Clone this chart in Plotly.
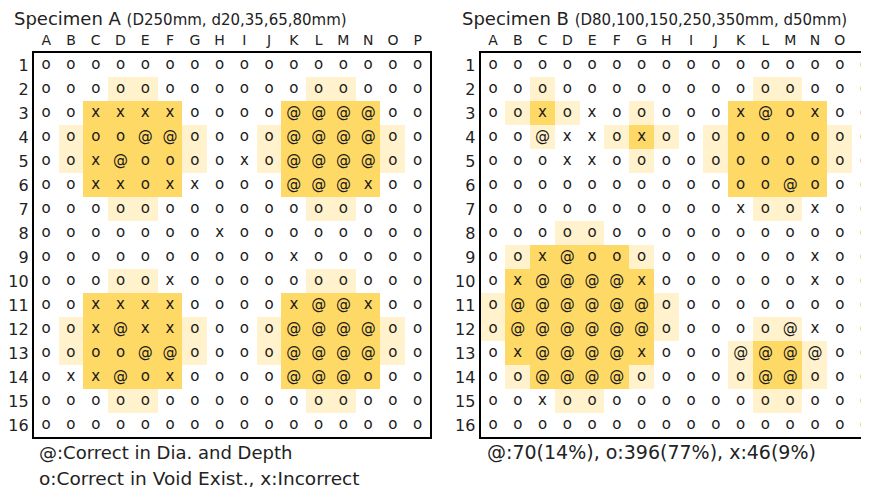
import plotly.graph_objects as go

columns = list("ABCDEFGHIJKLMNOP")
rows = [str(i) for i in range(1, 17)]

# symbols per row (A..P): '@' correct in dia & depth, 'o' correct in void existence, 'x' incorrect
symbols_a = [
    "oooooooooooooooo",
    "oooooooooooooooo",
    "ooxxxxoooo@@@@oo",
    "oooo@@oooo@@@@oo",
    "oox@ooooxo@@@@oo",
    "ooxxoxxooo@@@xoo",
    "oooooooooooooooo",
    "oooooooxoooooooo",
    "ooooooooooxooooo",
    "oooooxoooooooooo",
    "ooxxxxoooox@@xoo",
    "oox@xxoooo@@@@oo",
    "oooo@@oooo@@@@oo",
    "oxx@oxoooo@@@ooo",
    "oooooooooooooooo",
    "oooooooooooooooo",
]
symbols_b = [
    "oooooooooooooooo",
    "oooooooooooooooo",
    "ooxoxooooox@oxoo",
    "oo@xxoxooooooooo",
    "oooxxooooooooooo",
    "oooooooooooo@ooo",
    "ooooooooooxooxoo",
    "oooooooooooooooo",
    "oox@oooooooooxoo",
    "ox@@@@xooooooxoo",
    "o@@@@@@ooooooooo",
    "o@@@@@@ooooo@xoo",
    "ox@@@@xooo@@@@oo",
    "oo@@@@ooooo@@ooo",
    "ooxooooooooooooo",
    "oooooooooooooooo",
]
# backgrounds: '.' none, 'l' light (void surroundings), 'd' dark (void region)
background_a = [
    "................",
    "...ll......ll...",
    "..dddd....dddd..",
    ".lddddl..lddddl.",
    ".lddddl..lddddl.",
    "..dddd....dddd..",
    "...ll......ll...",
    "................",
    "................",
    "...ll......ll...",
    "..dddd....dddd..",
    ".lddddl..lddddl.",
    ".lddddl..lddddl.",
    "..dddd....dddd..",
    "...ll......ll...",
    "................",
]
background_b = [
    "................",
    "..l........ll...",
    ".ldl..l...dddd..",
    "..l..ldl.lddddl.",
    "......l..lddddl.",
    "..........dddd..",
    "...........ll...",
    "...ll...........",
    ".lddddl.........",
    ".dddddd.........",
    "lddddddl........",
    "lddddddl...ll...",
    ".dddddd...lddl..",
    ".lddddl...lddl..",
    "...ll......ll...",
    "................",
]

title_a = "Specimen A"
sub_a = "(D250mm, d20,35,65,80mm)"
title_b = "Specimen B"
sub_b = "(D80,100,150,250,350mm, d50mm)"
note_a1 = "@:Correct in Dia. and Depth"
note_a2 = "o:Correct in Void Exist., x:Incorrect"
note_b = "@:70(14%), o:396(77%), x:46(9%)"

# page body has an 8px margin: figure is sized to fill the rest of the window
OFF = 8
W, H = 869 - OFF, 490 - OFF
FONT = "DejaVu Sans"
LIGHT = "#FFF2CC"
DARK = "#FFD966"
level = {".": 0, "l": 1, "d": 2}
cscale = [[0, "white"], [0.333, "white"], [0.333, LIGHT], [0.667, LIGHT], [0.667, DARK], [1, DARK]]

def px(v):
    return (v - OFF) / W

def py(v):
    return 1 - (v - OFF) / H

fig = go.Figure()

def add_grid(sym, bg, xa, ya):
    z = [[level[c] for c in r] for r in bg]
    fig.add_trace(go.Heatmap(x=columns, y=rows, z=z, colorscale=cscale, zmin=0, zmax=2,
                             showscale=False, hoverinfo="skip", xaxis=xa, yaxis=ya))
    xs, ys, ts = [], [], []
    for ri, r in enumerate(sym):
        for ci, c in enumerate(r):
            xs.append(columns[ci]); ys.append(rows[ri]); ts.append(c)
    fig.add_trace(go.Scatter(x=xs, y=ys, text=ts, mode="text", cliponaxis=True,
                             textfont=dict(family=FONT, size=15, color="#1a1a1a"),
                             hoverinfo="skip", showlegend=False, xaxis=xa, yaxis=ya))

add_grid(symbols_a, background_a, "x", "y")
add_grid(symbols_b, background_b, "x2", "y2")

ydom = [py(437), py(53)]
xcommon = dict(side="top", showgrid=False, zeroline=False, ticks="", showline=True,
               linecolor="black", linewidth=2, mirror=True, type="category",
               tickfont=dict(family=FONT, size=14, color="#222"), fixedrange=True)
ycommon = dict(showgrid=False, zeroline=False, ticks="", showline=True,
               linecolor="black", linewidth=2, type="category",
               tickfont=dict(family=FONT, size=16, color="#222"), fixedrange=True,
               range=[15.5, -0.5])

fig.update_layout(
    width=W, height=H,
    margin=dict(l=0, r=0, t=0, b=0),
    paper_bgcolor="white", plot_bgcolor="white",
    showlegend=False,
    xaxis=dict(domain=[px(28), px(428)], range=[-0.5, 15.5], anchor="y", **xcommon),
    yaxis=dict(domain=ydom, anchor="x", mirror=True, **ycommon),
    xaxis2=dict(domain=[px(479), 1.0], range=[-0.5, 15.1], anchor="y2", **xcommon),
    yaxis2=dict(domain=ydom, anchor="x2", mirror=False, **ycommon),
)

def note(txt, x, y, size):
    fig.add_annotation(text=txt, xref="paper", yref="paper", x=px(x), y=py(y),
                       xanchor="left", yanchor="middle", showarrow=False,
                       font=dict(family=FONT, size=size, color="#222"))

note(f"{title_a} <span style='font-size:15px'>{sub_a}</span>", 6, 18, 18)
note(f"{title_b} <span style='font-size:15px'>{sub_b}</span>", 458, 18, 18)
note(note_a1, 31, 452, 18)
note(note_a2, 31, 478, 18.5)
note(note_b, 483, 452, 19)

fig.write_html("out.html")
